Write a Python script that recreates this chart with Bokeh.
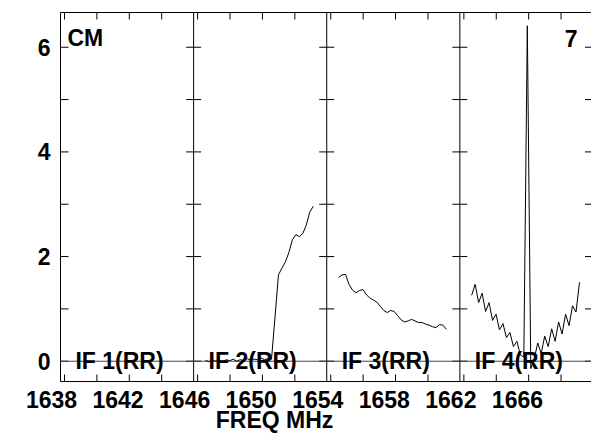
import numpy as np
from bokeh.plotting import figure
from bokeh.models import Range1d, FixedTicker
from bokeh.core.properties import value
from bokeh.embed import file_html
from bokeh.resources import INLINE

FONT = "Liberation Sans"

# ---- data -------------------------------------------------------------
panel_left = [1638.54, 1646.54, 1654.54, 1662.54]   # MHz, left edge of each IF panel
panel_width = 8.0
if_names = ["IF 1(RR)", "IF 2(RR)", "IF 3(RR)", "IF 4(RR)"]
if_start = [1639.25, 1647.25, 1655.25, 1663.25]      # first channel frequency
ch_width = 0.209                                     # MHz per channel

x_tick_labels = [1638, 1642, 1646, 1650, 1654, 1658, 1662, 1666]
x_title = "FREQ MHz"
y_ticks = [0, 1, 2, 3, 4, 5, 6]
y_tick_labels = {0: "0", 1: "", 2: "2", 3: "", 4: "4", 5: "", 6: "6"}
y_box = [-0.388, 6.664]                              # plot box limits (amplitude)

if2_amp = [0.02, -0.01, 0.03, 0.00, 0.02, -0.02, 0.03, 0.01, 0.04, 0.00,
           0.03, 0.01, 0.05, 0.02, 0.04, 0.03, 0.06, 0.03, 0.05, 0.04,
           0.84, 1.65, 1.78, 1.90, 2.08, 2.32, 2.42, 2.38, 2.44, 2.60,
           2.85, 2.96]
if3_amp = [1.60, 1.65, 1.66, 1.47, 1.36, 1.31, 1.35, 1.37, 1.27, 1.21,
           1.17, 1.13, 1.05, 0.97, 0.93, 0.97, 0.95, 0.87, 0.79, 0.75,
           0.77, 0.80, 0.77, 0.74, 0.74, 0.71, 0.69, 0.66, 0.64, 0.70,
           0.69, 0.61]
if4_amp = [1.26, 1.47, 1.12, 1.30, 0.95, 1.12, 0.78, 0.90, 0.60, 0.72,
           0.45, 0.55, 0.28, 0.38, 0.12, 0.08, 6.41, -0.14, 0.05, 0.35,
           0.15, 0.48, 0.28, 0.62, 0.38, 0.75, 0.52, 0.90, 0.68, 1.06,
           0.94, 1.51]
series = {1: if2_amp, 2: if3_amp, 3: if4_amp}

corner_left = "CM"
corner_right = "7"

# ---- figure -----------------------------------------------------------
W, H = 591, 434
PX_X = 16.64          # pixels per MHz
PX_Y = 52.33          # pixels per amplitude unit
X0 = panel_left[0] - 60 / PX_X
X1 = X0 + W / PX_X
Y1 = y_box[1] + 12 / PX_Y
Y0 = Y1 - H / PX_Y

p = figure(width=W, height=H, output_backend="svg", toolbar_location=None,
           x_range=Range1d(X0, X1), y_range=Range1d(Y0, Y1),
           min_border_left=0, min_border_right=0, min_border_top=0,
           min_border_bottom=0)
p.outline_line_color = None
p.grid.visible = False
p.background_fill_color = "white"
p.border_fill_color = "white"

box_l = panel_left[0]
box_r = panel_left[-1] + panel_width
yb0, yb1 = y_box

xa = p.xaxis[0]
xa.fixed_location = yb0
xa.bounds = (X0 + 25 / PX_X, X0 + 523 / PX_X)
xa.ticker = FixedTicker(ticks=x_tick_labels)
xa.major_tick_in = 0
xa.major_tick_out = 0
xa.minor_tick_in = 0
xa.minor_tick_out = 0
xa.axis_line_color = None
xa.major_label_standoff = 9
xa.major_label_text_font = FONT
xa.major_label_text_font_style = "bold"
xa.major_label_text_font_size = "23px"
xa.major_label_text_color = "black"
xa.axis_label = x_title
xa.axis_label_standoff = -4
xa.axis_label_text_font = FONT
xa.axis_label_text_font_style = "bold"
xa.axis_label_text_font_size = "23px"
xa.axis_label_text_color = "black"

ya = p.yaxis[0]
ya.fixed_location = box_l
ya.ticker = FixedTicker(ticks=y_ticks)
ya.major_label_overrides = y_tick_labels
ya.major_tick_in = 0
ya.major_tick_out = 0
ya.minor_tick_in = 0
ya.minor_tick_out = 0
ya.axis_line_color = None
ya.major_label_standoff = 10
ya.major_label_text_font = FONT
ya.major_label_text_font_style = "bold"
ya.major_label_text_font_size = "23px"
ya.major_label_text_color = "black"

px_x = 1 / PX_X
px_y = 1 / PX_Y

# plot box (left, top, bottom)
p.segment(x0=[box_l, box_l, box_l], y0=[yb0, yb1, yb0],
          x1=[box_l, X1, X1], y1=[yb1, yb1, yb0], line_color="black", line_width=1)

# y ticks on box left and right (inward)
n = len(y_ticks)
p.segment(x0=[box_l] * n, y0=y_ticks, x1=[box_l + 8 * px_x] * n,
          y1=y_ticks, line_color="black", line_width=1)
p.segment(x0=[box_r - 8 * px_x] * n, y0=y_ticks, x1=[box_r] * n,
          y1=y_ticks, line_color="black", line_width=1)

# x tick marks (inward, bottom and top) per panel
tick_x = [pl + 4 * px_x + 32.4 * px_x * k for pl in panel_left for k in range(4)]
p.segment(x0=tick_x, y0=[yb0] * len(tick_x), x1=tick_x, y1=[yb0 + 7 * px_y] * len(tick_x),
          line_color="black", line_width=1)
p.segment(x0=tick_x, y0=[yb1 - 7 * px_y] * len(tick_x), x1=tick_x, y1=[yb1] * len(tick_x),
          line_color="black", line_width=1)

# panel separators with crossing y ticks
seps = panel_left[1:]
p.segment(x0=seps, y0=[yb0] * 3, x1=seps, y1=[yb1] * 3, line_color="black", line_width=1)
sx0, sx1, sy = [], [], []
for s in seps:
    for t in y_ticks:
        sx0.append(s - 7.5 * px_x)
        sx1.append(s + 7.5 * px_x)
        sy.append(t)
p.segment(x0=sx0, y0=sy, x1=sx1, y1=sy, line_color="black", line_width=1)

# zero lines
p.segment(x0=panel_left, y0=[0] * 4, x1=[pl + panel_width for pl in panel_left], y1=[0] * 4,
          line_color="#444444", line_width=1)

# spectra
for i, amp in series.items():
    freqs = if_start[i] + ch_width * np.arange(len(amp))
    p.line(freqs, amp, line_color="black", line_width=1)

# IF labels
p.text(x=[pl + 0.9 for pl in panel_left], y=[0] * 4, text=if_names,
       text_font=value(FONT), text_font_style="bold", text_font_size="23px",
       text_color="black", text_baseline="alphabetic", text_align="left")

p.text(x=[box_l + 0.42], y=[6.17], text=[corner_left], text_font=value(FONT),
       text_font_style="bold", text_font_size="23px", text_color="black",
       text_baseline="alphabetic", text_align="left")
p.text(x=[box_r - 0.93], y=[6.17], text=[corner_right], text_font=value(FONT),
       text_font_style="bold", text_font_size="23px", text_color="black",
       text_baseline="alphabetic", text_align="right")

open("out.html", "w").write(file_html(p, INLINE))
